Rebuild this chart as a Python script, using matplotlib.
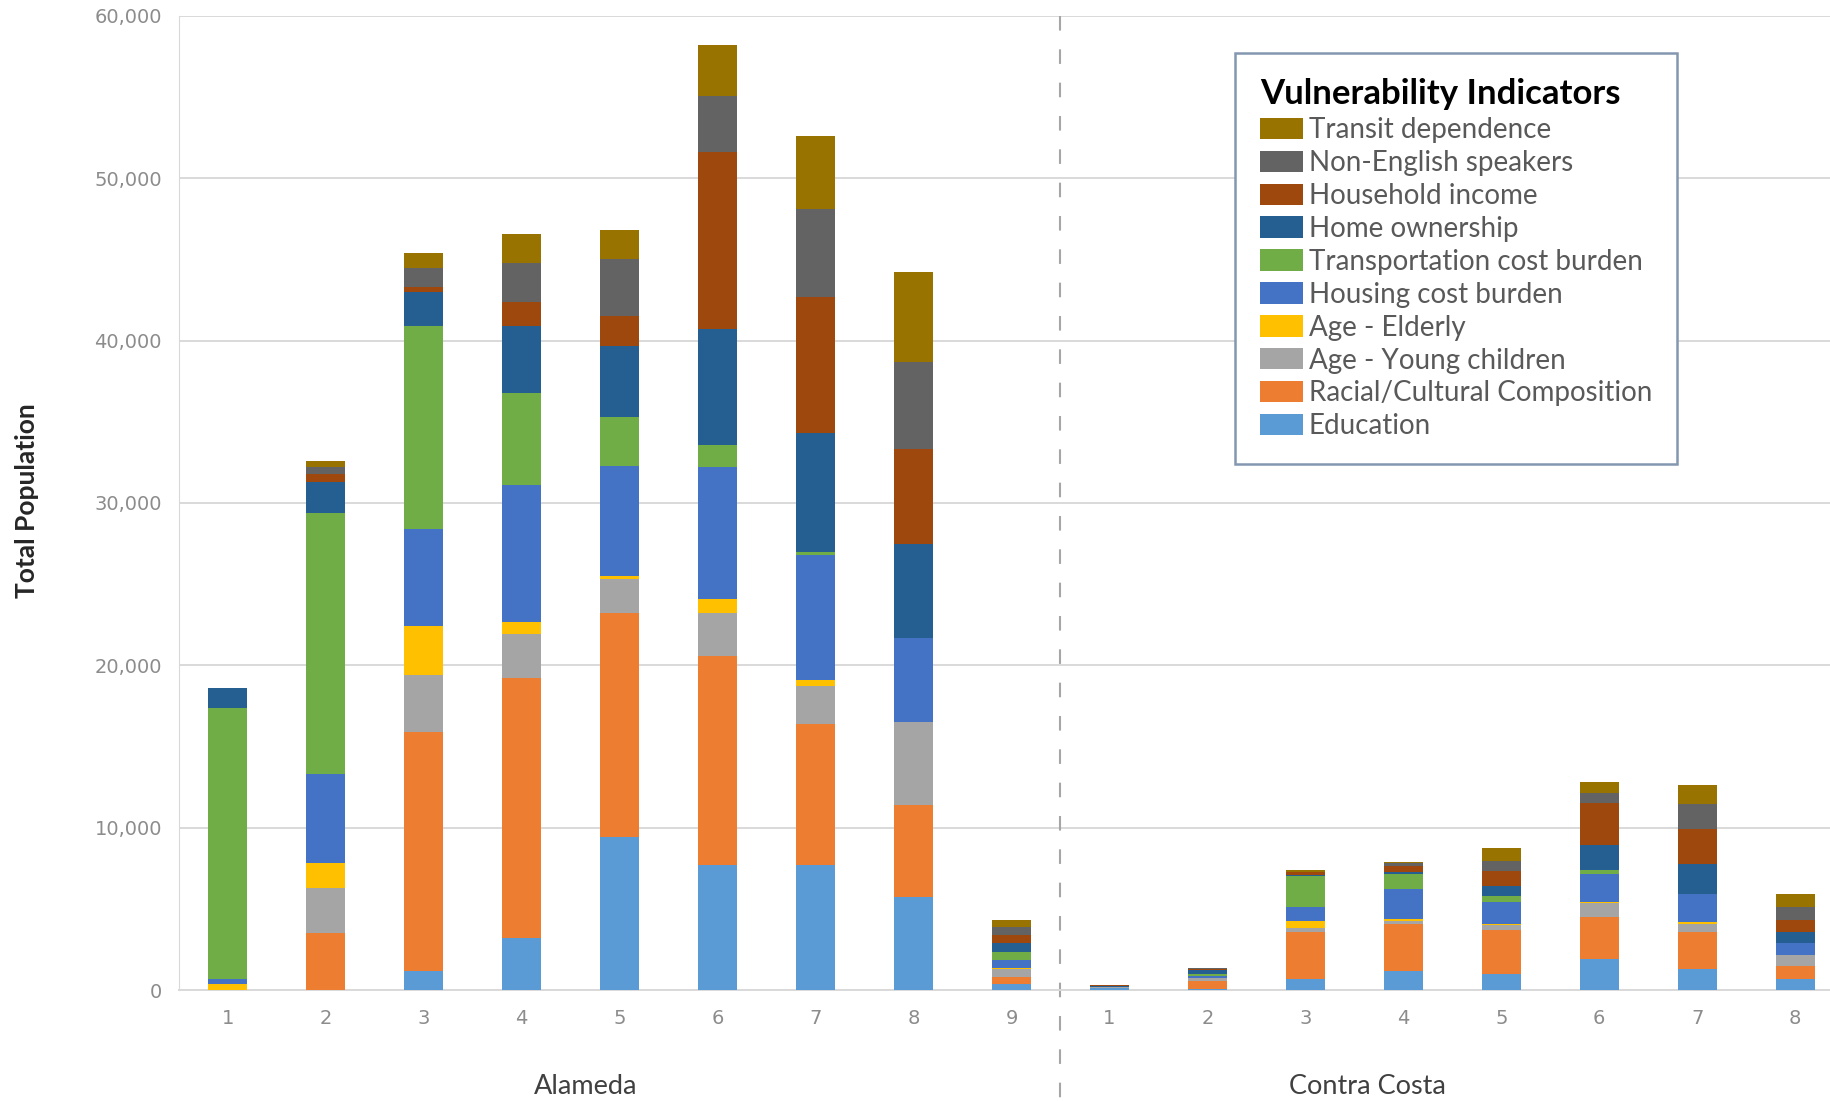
import matplotlib
matplotlib.use("Agg")
import matplotlib.pyplot as plt
from matplotlib.transforms import blended_transform_factory

# categories
alameda_labels = ["1", "2", "3", "4", "5", "6", "7", "8", "9"]
contra_labels = ["1", "2", "3", "4", "5", "6", "7", "8"]
tick_labels = alameda_labels + contra_labels

# indicator series, stacked bottom -> top (Alameda 1-9, then Contra Costa 1-8)
education = [0, 0, 1200, 3200, 9400, 7700, 7700, 5700, 370,
             100, 80, 660, 1160, 990, 1880, 1300, 660]
racial = [0, 3500, 14700, 16000, 13800, 12900, 8700, 5700, 450,
          30, 500, 2920, 2900, 2690, 2630, 2280, 790]
young_children = [0, 2800, 3500, 2700, 2100, 2600, 2300, 5100, 470,
                  30, 150, 250, 190, 310, 830, 480, 680]
elderly = [350, 1500, 3000, 800, 200, 900, 400, 0, 50,
           0, 30, 430, 120, 100, 100, 100, 0]
housing = [300, 5500, 6000, 8400, 6800, 8100, 7700, 5200, 510,
           50, 100, 870, 1840, 1350, 1720, 1760, 790]
transportation = [16700, 16100, 12500, 5700, 3000, 1400, 200, 0, 510,
                  0, 100, 1900, 950, 350, 210, 0, 0]
home_ownership = [1250, 1900, 2100, 4100, 4400, 7100, 7300, 5800, 550,
                  60, 300, 60, 80, 620, 1550, 1860, 660]
household_income = [0, 500, 300, 1500, 1800, 10900, 8400, 5800, 470,
                    30, 50, 150, 370, 950, 2570, 2110, 720]
non_english = [0, 400, 1200, 2400, 3500, 3500, 5400, 5400, 510,
               0, 50, 40, 210, 560, 620, 1590, 790]
transit = [0, 400, 900, 1800, 1800, 3100, 4500, 5500, 410,
           0, 20, 120, 50, 830, 680, 1160, 830]

series = [
    ("Education", education, "#5B9BD5"),
    ("Racial/Cultural Composition", racial, "#ED7D31"),
    ("Age - Young children", young_children, "#A5A5A5"),
    ("Age - Elderly", elderly, "#FFC000"),
    ("Housing cost burden", housing, "#4472C4"),
    ("Transportation cost burden", transportation, "#70AD47"),
    ("Home ownership", home_ownership, "#255E91"),
    ("Household income", household_income, "#9E480E"),
    ("Non-English speakers", non_english, "#636363"),
    ("Transit dependence", transit, "#997300"),
]

fig = plt.figure(figsize=(18.31, 11.01), dpi=100)
ax = fig.add_axes([0.0976, 0.1008, 0.9024, 0.8847])

x = list(range(len(tick_labels)))
bottom = [0] * len(x)
handles = []
for name, vals, color in series:
    h = ax.bar(x, vals, width=0.4, bottom=bottom, color=color, label=name, zorder=3)
    handles.append(h)
    bottom = [b + v for b, v in zip(bottom, vals)]

ax.set_ylim(0, 60000)
ax.set_xlim(-0.5, 16.365)
ax.set_yticks(range(0, 60001, 10000))
ax.set_yticklabels(["{:,}".format(v) for v in range(0, 60001, 10000)])
ax.set_xticks(x)
ax.set_xticklabels(tick_labels)
ax.tick_params(axis="both", length=0, labelsize=14, labelcolor="#8c8c8c")
ax.tick_params(axis="x", pad=14)
ax.tick_params(axis="y", pad=12)
ax.grid(axis="y", color="#d9d9d9", linewidth=1.4, zorder=0)
for side in ["top", "right"]:
    ax.spines[side].set_visible(False)
ax.spines["left"].set_color("#d9d9d9")
ax.spines["bottom"].set_color("#d9d9d9")
ax.spines["bottom"].set_linewidth(1.4)

# group separator
trans = blended_transform_factory(ax.transData, ax.transAxes)
ax.plot([8.5, 8.5], [1.0, -0.115], transform=trans, clip_on=False,
        color="#a6a6a6", linewidth=1.5, dashes=(7, 9))

# group labels
ax.text(3.65, -0.099, "Alameda", transform=trans, ha="center", va="center",
        fontsize=19.5, color="#404040", family="Lato")
ax.text(11.63, -0.099, "Contra Costa", transform=trans, ha="center", va="center",
        fontsize=19.5, color="#404040", family="Lato")

fig.text(0.015, 0.545, "Total Population", rotation=90, ha="center", va="center",
         fontsize=19, fontweight="bold", color="#262626", family="Lato")

leg = ax.legend(handles[::-1], [s[0] for s in series][::-1],
                loc="upper left", bbox_to_anchor=(0.6745, 0.9519),
                bbox_transform=fig.transFigure, borderaxespad=0,
                title="Vulnerability Indicators", alignment="left",
                prop={"family": "Lato", "size": 20},
                title_fontproperties={"family": "Lato", "size": 25, "weight": "bold"},
                handlelength=1.55, handleheight=0.8, handletextpad=0.2,
                labelspacing=0.25, borderpad=0.9, fancybox=False, framealpha=1)
leg.get_frame().set_edgecolor("#8497b0")
leg.get_frame().set_linewidth(1.8)
for t in leg.get_texts():
    t.set_color("#595959")

fig.savefig("out.png", dpi=100)
